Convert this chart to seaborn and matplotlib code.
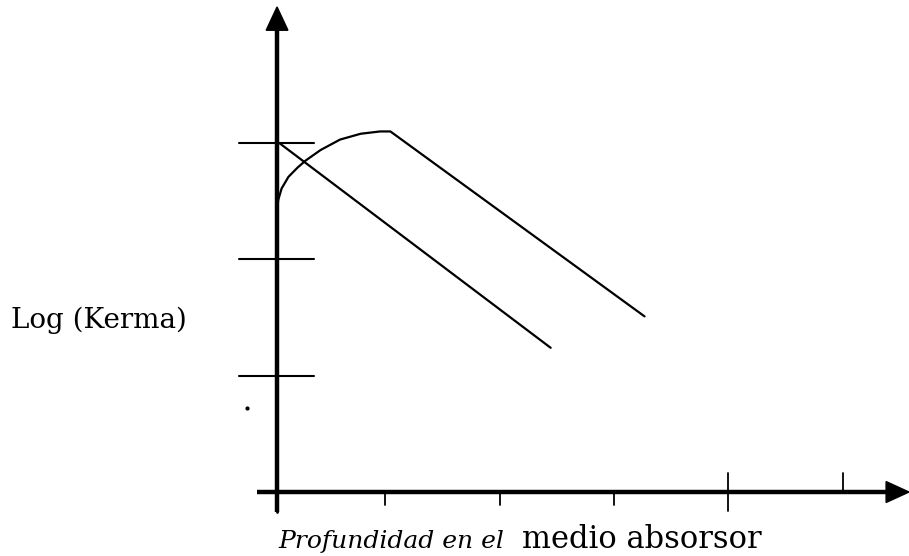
import numpy as np
import pandas as pd
import seaborn as sns
import matplotlib.pyplot as plt

recta_x = [0.02, 2.39]
recta_y = [3.00, 1.24]

curva_x = [0.00, 0.01, 0.04, 0.10, 0.18, 0.25, 0.38, 0.55, 0.73, 0.90, 0.99, 3.21]
curva_y = [2.41, 2.51, 2.61, 2.71, 2.79, 2.85, 2.94, 3.03, 3.08, 3.10, 3.10, 1.51]

ticks_x = [0.94, 1.95, 2.94, 3.94, 4.94]
ticks_y = [1, 2, 3]

sns.set_style("white")
plt.rcParams['font.family'] = ['DejaVu Serif', 'Liberation Serif']

fig = plt.figure(figsize=(9.09, 5.56), dpi=100)
ax = fig.add_axes([0, 0, 1, 1])
ax.set_xlim(-2.42, 5.52)
ax.set_ylim(-0.55, 4.23)
ax.axis("off")

k = "black"

# ejes con flecha
ax.plot([-0.175, 5.36], [0, 0], color=k, lw=3.2, solid_capstyle="butt")
ax.plot([0, 0], [-0.17, 4.0], color=k, lw=3.2, solid_capstyle="butt")
ax.fill([5.32, 5.52, 5.32], [-0.09, 0, 0.09], color=k)
ax.fill([-0.095, 0, 0.095], [3.97, 4.17, 3.97], color=k)

# marcas del eje x
ax.plot([0, 0], [0, -0.17], color=k, lw=2)
for i, t in enumerate(ticks_x):
    if i < 3:
        ax.plot([t, t], [0, -0.11], color=k, lw=1.3)
    elif i == 3:
        ax.plot([t, t], [-0.16, 0.16], color=k, lw=1.3)
    else:
        ax.plot([t, t], [0, 0.16], color=k, lw=1.3)

# marcas del eje y
for t in ticks_y:
    ax.plot([-0.33, 0.32], [t, t], color=k, lw=1.5)

sns.lineplot(x=recta_x, y=recta_y, ax=ax, color=k, lw=1.6, sort=False)
sns.lineplot(x=curva_x, y=curva_y, ax=ax, color=k, lw=1.6, sort=False)

ax.scatter([-0.26], [0.72], s=4, color=k)

ax.text(-2.32, 1.41, "Log (Kerma)", fontsize=20, va="baseline", ha="left", color=k)
ax.text(0.01, -0.48, "Profundidad en el", fontsize=18, style="italic",
        va="baseline", ha="left", color=k)
ax.text(2.14, -0.48, "medio absorsor", fontsize=22,
        va="baseline", ha="left", color=k)

fig.savefig("out.png", dpi=100)
